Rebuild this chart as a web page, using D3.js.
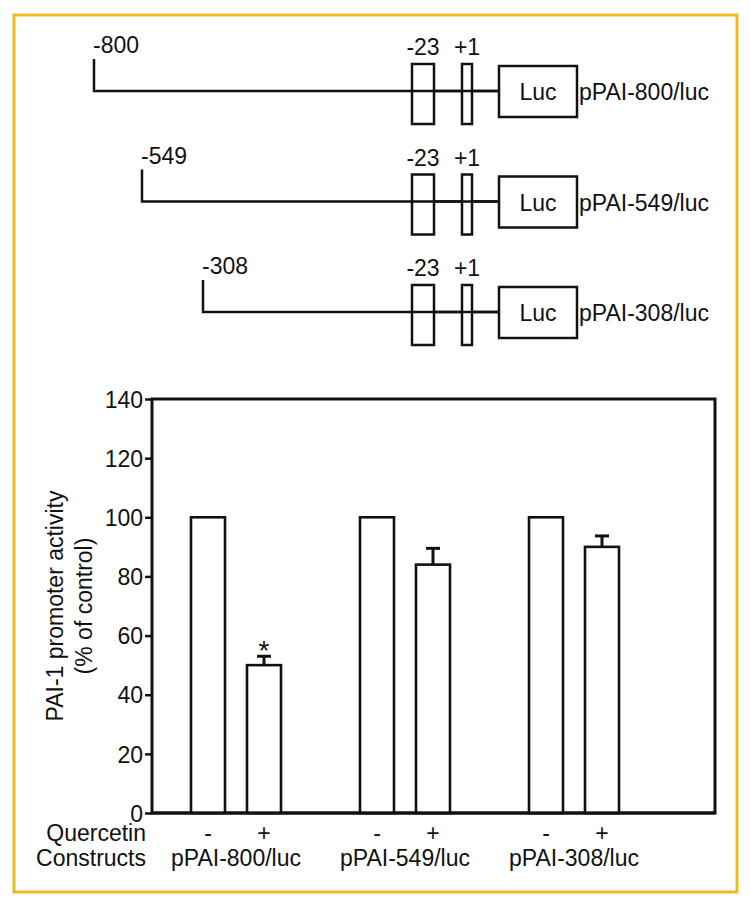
<!DOCTYPE html>
<html><head><meta charset="utf-8">
<script src="https://cdn.jsdelivr.net/npm/d3@7"></script>
<style>
html,body{margin:0;padding:0;background:#fff;}
svg{display:block;font-family:"Liberation Sans",Arial,Helvetica,sans-serif;}
</style></head>
<body>
<svg id="chart" width="750" height="906"></svg>
<script>
// ---- data ----
const constructs = ["pPAI-800/luc", "pPAI-549/luc", "pPAI-308/luc"];
const constructStarts = [-800, -549, -308];
const elementSites = [-23, 1];
const elementLabels = ["-23", "+1"];
const quercetin = ["-", "+"];
const controlValues = [100, 100, 100];
const quercetinValues = [50, 84, 90];
const controlErrors = [0, 0, 0];
const quercetinErrors = [3, 5.5, 3.7];
const significant = [true, false, false];
const yTicks = [0, 20, 40, 60, 80, 100, 120, 140];

const svg = d3.select("#chart");
const FS = 23;
const INK = "#111";

// frame
svg.append("rect").attr("x", 14).attr("y", 15).attr("width", 723).attr("height", 877)
  .attr("fill", "none").attr("stroke", "#efbb22").attr("stroke-width", 3);

// ---- construct diagram ----
const bp = d3.scaleLinear().domain([-800, -549, -308, -23, 1]).range([94, 142, 203, 423, 467]);
const rowY = d3.scalePoint().domain(constructs).range([91, 312]);
const lucX0 = 499, lucX1 = 577;
const diag = svg.append("g").attr("stroke", INK).attr("fill", "none").attr("stroke-width", 2.5);

constructs.forEach((c, i) => {
  const y = rowY(c), x0 = bp(constructStarts[i]);
  diag.append("path").attr("d", `M${x0},${y - 32}V${y}H${lucX0}`);
  diag.append("rect").attr("x", bp(-23) - 11).attr("y", y - 27).attr("width", 22).attr("height", 60).attr("fill", "#fff");
  diag.append("rect").attr("x", bp(1) - 5).attr("y", y - 27).attr("width", 10).attr("height", 60).attr("fill", "#fff");
  diag.append("line").attr("x1", bp(-23) - 11).attr("x2", lucX0).attr("y1", y).attr("y2", y);
  diag.append("rect").attr("x", lucX0).attr("y", y - 25).attr("width", lucX1 - lucX0).attr("height", 51).attr("fill", "#fff");
  const t = svg.append("g").attr("font-size", FS).attr("fill", INK);
  t.append("text").attr("x", x0 - 1).attr("y", y - 38).text(String(constructStarts[i]));
  elementSites.forEach((s, k) => {
    t.append("text").attr("x", bp(s)).attr("y", y - 36).attr("text-anchor", "middle").text(elementLabels[k]);
  });
  t.append("text").attr("x", (lucX0 + lucX1) / 2).attr("y", y + 9).attr("text-anchor", "middle").text("Luc");
  t.append("text").attr("x", lucX1 + 2).attr("y", y + 9).text(c);
});

// ---- bar chart ----
const plotL = 152, plotR = 715, plotT = 399, plotB = 813;
const y = d3.scaleLinear().domain([0, 140]).range([plotB, plotT]);
const gx = d3.scalePoint().domain(constructs).range([236, 574]);
const sx = d3.scalePoint().domain(quercetin).range([-28, 28]);
const bw = 34;

const axis = svg.append("g").attr("transform", `translate(${plotL},0)`)
  .call(d3.axisLeft(y).tickValues(yTicks).tickSize(7).tickPadding(2).tickFormat(d3.format("d")));
axis.select(".domain").remove();
axis.selectAll("line").attr("stroke", INK).attr("stroke-width", 2.5);
axis.selectAll("text").attr("font-size", FS).attr("fill", INK).attr("font-family", "Liberation Sans, Arial, sans-serif").attr("dy", "0.36em");

svg.append("path").attr("d", `M${plotL},${plotB}V${plotT}H${plotR}V${plotB}Z`)
  .attr("fill", "none").attr("stroke", INK).attr("stroke-width", 3);

const bars = [];
constructs.forEach((c, i) => {
  bars.push({c, q: "-", v: controlValues[i], e: controlErrors[i], sig: false});
  bars.push({c, q: "+", v: quercetinValues[i], e: quercetinErrors[i], sig: significant[i]});
});

const bg = svg.append("g");
bars.forEach(b => {
  const cx = gx(b.c) + sx(b.q);
  if (b.e > 0) {
    bg.append("line").attr("x1", cx).attr("x2", cx).attr("y1", y(b.v)).attr("y2", y(b.v + b.e)).attr("stroke", INK).attr("stroke-width", 3);
    bg.append("line").attr("x1", cx - 7).attr("x2", cx + 7).attr("y1", y(b.v + b.e)).attr("y2", y(b.v + b.e)).attr("stroke", INK).attr("stroke-width", 3);
  }
  bg.append("rect").attr("x", cx - bw / 2).attr("y", y(b.v)).attr("width", bw).attr("height", y(0) - y(b.v))
    .attr("fill", "#fff").attr("stroke", INK).attr("stroke-width", 2.6);
  if (b.sig) {
    bg.append("text").attr("x", cx).attr("y", y(b.v + b.e) + 4).attr("text-anchor", "middle")
      .attr("font-size", 28).attr("fill", INK).text("*");
  }
});

svg.append("line").attr("x1", plotL).attr("x2", plotR).attr("y1", plotB).attr("y2", plotB).attr("stroke", INK).attr("stroke-width", 3);

// x labels
const lab = svg.append("g").attr("font-size", FS).attr("fill", INK);
lab.append("text").attr("x", 146).attr("y", 841).attr("text-anchor", "end").text("Quercetin");
lab.append("text").attr("x", 146).attr("y", 866).attr("text-anchor", "end").text("Constructs");
bars.forEach(b => {
  lab.append("text").attr("x", gx(b.c) + sx(b.q)).attr("y", 841).attr("text-anchor", "middle").text(b.q);
});
constructs.forEach(c => {
  lab.append("text").attr("x", gx(c)).attr("y", 866).attr("text-anchor", "middle").text(c);
});

// y label
const yl = svg.append("g").attr("font-size", FS).attr("fill", INK);
yl.append("text").attr("transform", `translate(63,${(plotT + plotB) / 2}) rotate(-90)`).attr("text-anchor", "middle").text("PAI-1 promoter activity");
yl.append("text").attr("transform", `translate(92,${(plotT + plotB) / 2}) rotate(-90)`).attr("text-anchor", "middle").text("(% of control)");
</script>
</body></html>
